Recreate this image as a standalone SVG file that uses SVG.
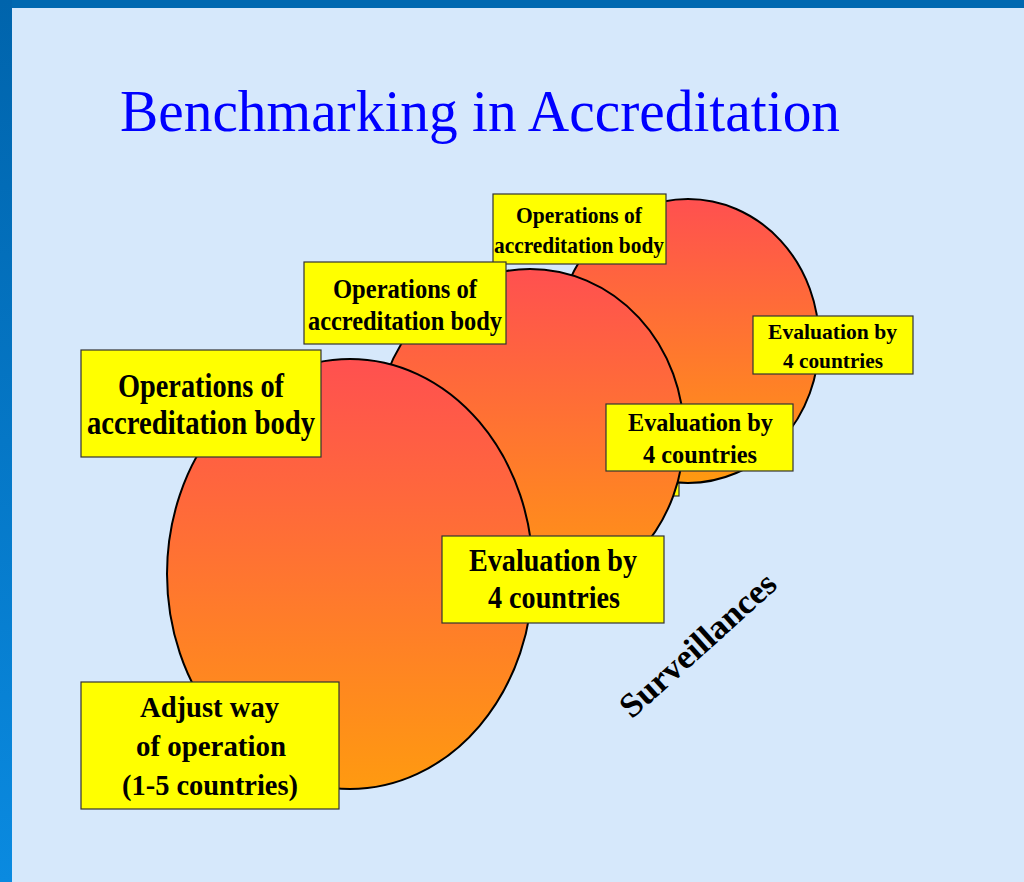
<svg xmlns="http://www.w3.org/2000/svg" width="1024" height="882" viewBox="0 0 1024 882">
<defs>
<linearGradient id="ball" x1="0" y1="0" x2="0" y2="1">
<stop offset="0" stop-color="#ff5050"/>
<stop offset="1" stop-color="#ff9a10"/>
</linearGradient>
<linearGradient id="side" x1="0" y1="0" x2="0" y2="1">
<stop offset="0" stop-color="#0064ac"/>
<stop offset="1" stop-color="#0a8ae0"/>
</linearGradient>
<style>
.ell{fill:url(#ball);stroke:#000;stroke-width:2}
.box{fill:#ffff00;stroke:#333;stroke-width:1.2}
.lbl{font-family:"Liberation Serif","Times New Roman",serif;font-weight:bold;fill:#000}
.title{font-family:"Liberation Serif","Times New Roman",serif;fill:#0000ff}
</style>
</defs>
<rect x="0" y="0" width="1024" height="882" fill="#d6e8fb"/>
<rect x="0" y="0" width="1024" height="8" fill="#0068b0"/>
<rect x="0" y="0" width="12" height="882" fill="url(#side)"/>
<text class="title" x="120" y="131" font-size="60" textLength="720" lengthAdjust="spacingAndGlyphs">Benchmarking in Accreditation</text>

<g id="hidden-box"><rect class="box" x="620" y="420" width="59" height="76"/></g>
<g id="circle-3"><ellipse class="ell" cx="688" cy="341" rx="131" ry="142"/></g>
<g id="ops-3">
<rect class="box" x="493" y="194" width="173" height="70"/>
<text class="lbl" x="516" y="223" font-size="23" textLength="126" lengthAdjust="spacingAndGlyphs">Operations of</text>
<text class="lbl" x="494" y="253" font-size="23" textLength="170" lengthAdjust="spacingAndGlyphs">accreditation body</text>
</g>
<g id="eval-3">
<rect class="box" x="753" y="316" width="160" height="58"/>
<text class="lbl" x="768" y="339" font-size="22" textLength="129" lengthAdjust="spacingAndGlyphs">Evaluation by</text>
<text class="lbl" x="783" y="368" font-size="22" textLength="100" lengthAdjust="spacingAndGlyphs">4 countries</text>
</g>
<g id="circle-2"><ellipse class="ell" cx="530" cy="435" rx="154" ry="166"/></g>
<g id="ops-2">
<rect class="box" x="304" y="262" width="202" height="82"/>
<text class="lbl" x="333" y="298" font-size="27" textLength="144" lengthAdjust="spacingAndGlyphs">Operations of</text>
<text class="lbl" x="308" y="330" font-size="27" textLength="194" lengthAdjust="spacingAndGlyphs">accreditation body</text>
</g>
<g id="eval-2">
<rect class="box" x="606" y="404" width="187" height="67"/>
<text class="lbl" x="628" y="431" font-size="26" textLength="145" lengthAdjust="spacingAndGlyphs">Evaluation by</text>
<text class="lbl" x="643" y="463" font-size="26" textLength="114" lengthAdjust="spacingAndGlyphs">4 countries</text>
</g>
<g id="circle-1"><ellipse class="ell" cx="350" cy="574" rx="183" ry="215"/></g>
<g id="ops-1">
<rect class="box" x="81" y="350" width="240" height="107"/>
<text class="lbl" x="118" y="397" font-size="33" textLength="166" lengthAdjust="spacingAndGlyphs">Operations of</text>
<text class="lbl" x="87" y="434" font-size="33" textLength="228" lengthAdjust="spacingAndGlyphs">accreditation body</text>
</g>
<g id="eval-1">
<rect class="box" x="442" y="536" width="222" height="87"/>
<text class="lbl" x="469" y="571" font-size="31" textLength="168" lengthAdjust="spacingAndGlyphs">Evaluation by</text>
<text class="lbl" x="488" y="608" font-size="31" textLength="132" lengthAdjust="spacingAndGlyphs">4 countries</text>
</g>
<g id="adjust">
<rect class="box" x="81" y="682" width="258" height="127"/>
<text class="lbl" x="140" y="717" font-size="30" textLength="139" lengthAdjust="spacingAndGlyphs">Adjust way</text>
<text class="lbl" x="136" y="756" font-size="30" textLength="150" lengthAdjust="spacingAndGlyphs">of operation</text>
<text class="lbl" x="122" y="795" font-size="30" textLength="176" lengthAdjust="spacingAndGlyphs">(1-5 countries)</text>
</g>
<g id="surveillances">
<text class="lbl" transform="translate(698,645) rotate(-42)" x="0" y="11" font-size="34" text-anchor="middle" textLength="198" lengthAdjust="spacingAndGlyphs">Surveillances</text>
</g>
<g id="connectors"/>
</svg>
